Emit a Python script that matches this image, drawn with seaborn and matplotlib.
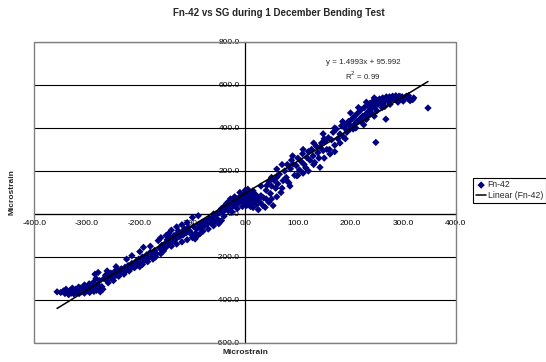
import numpy as np
import pandas as pd
import matplotlib
matplotlib.use("Agg")
import matplotlib.pyplot as plt
import seaborn as sns
from matplotlib.patches import Rectangle

# values (microstrain)
sg_x = [
    # lower left cluster
    -357, -350, -345, -342, -338, -335, -332, -330, -327, -325, -322, -320, -318, -315,
    -312, -310, -308, -305, -302, -300, -298, -295, -292, -290, -287, -285, -282, -280,
    -278, -275, -272, -270, -340, -328, -316, -305, -296, -288, -279, -283, -276,
    # rising part
    -268, -265, -262, -258, -255, -252, -248, -245, -242, -238, -235, -232, -228, -225,
    -222, -218, -215, -215, -212, -208, -205, -202, -198, -195, -193, -190, -187, -184,
    -180, -177, -175, -172, -168, -165, -162, -158, -155, -152, -150,
    -148, -145, -142, -138, -135, -132, -128, -127, -124, -120, -118, -115, -112, -108,
    -105, -102, -98, -95, -92, -89, -88, -85, -82, -78, -75, -72, -68, -65, -62, -58,
    -55, -52, -48, -45, -42, -40,
    -260, -250, -240, -230, -220, -210, -200, -195, -185, -175, -170, -160, -150, -145,
    -140, -130, -120, -110, -100, -95, -90, -85, -80, -70, -60, -50, -120, -110, -100,
    -130, -140, -160, -180, -200, -225, -245, -262, -285,
    # around zero
    -38, -35, -32, -30, -28, -25, -22, -20, -18, -15, -12, -10, -8, -5, -3, 0, 0, 2,
    5, 5, 8, 10, 12, 14, 15, 17, 19, 20, -25, -15, -5, 3, 10, 22, 25, 28,
    -50, -45, -40, -35, -30, -20, -10, 0, 5, -60, -28, 15, 25, 30, 35, 45, 50,
    # middle
    30, 34, 38, 40, 41, 45, 48, 50, 53, 55, 58, 60, 62, 65, 68, 72, 75, 78, 80, 83, 86,
    88, 91, 94, 97, 100, 103, 106, 109, 112, 115, 117, 120, 123, 126, 129, 132, 135,
    138, 142, 142, 145, 148, 148, 152, 155, 158, 161, 164, 167, 170, 173, 176, 180,
    183, 186, 189, 193, 193, 196, 199, 28, 79, 98,
    40, 60, 70, 85, 100, 110, 120, 130, 140, 150, 160, 170, 180, 190, 70, 90, 110, 130,
    150, 170, 185, 60, 50,
    # upper right cluster
    202, 205, 208, 211, 214, 217, 220, 223, 226, 229, 232, 235, 237, 240, 243, 246,
    248, 249, 252, 255, 258, 261, 264, 267, 268, 271, 274, 277, 280, 283, 286, 289,
    292, 295, 298, 302, 306, 310, 313, 318, 347, 240, 230, 220, 260, 250, 210, 225,
    245, 205, 255, 265, 275, 285, 295, 238, 248, 258, 270, 282,
    200, 215, 230, 245, 300, 310, 320, 290, 275, 265, 235, 222, 212, 198,
]
fn42_y = [
    -362, -365, -358, -370, -362, -375, -355, -368, -360, -372, -350, -365, -358, -370,
    -345, -362, -352, -368, -340, -358, -348, -365, -335, -352, -360, -340, -355, -330,
    -348, -362, -338, -350, -350, -345, -340, -330, -325, -318, -272, -300, -310,
    -300, -285, -310, -290, -275, -300, -268, -285, -262, -278, -255, -270, -248, -262,
    -240, -255, -194, -230, -245, -222, -238, -210, -228, -200, -155, -215, -190, -205,
    -178, -186, -198, -170, -185, -124, -160, -145, -172, -138, -155,
    -120, -140, -110, -128, -100, -118, -90, -78, -105, -85, -98, -70, -88, -62,
    -80, -95, -58, -92, -70, -8, -48, -65, -40, -55, -30, -48, -22, -40, -15, -35,
    -5, -25, 5, -31, 12, -10,
    -320, -310, -290, -280, -265, -250, -245, -235, -222, -210, -200, -185, -100, -90,
    -150, -140, -130, -120, -110, -116, -100, -90, -80, -70, -55, -45, -50, -40, -16,
    -60, -75, -110, -150, -175, -210, -245, -265, -280,
    20, 35, 15, 45, 28, 55, 38, 62, 45, 70, 52, 80, 60, 88, 68, 95, 50, 75,
    100, 55, 85, 65, 95, 48, 108, 75, 60, 90, 10, 25, 35, 40, 35, 45, 70, 55,
    10, 25, 35, 50, 60, 80, 100, 110, 115, 0, 70, 30, 20, 85, 75, 55, 70,
    130, 39, 31, 110, 132, 150, 95, 170, 39, 156, 120, 209, 140, 185, 100, 155, 200,
    170, 230, 145, 210, 250, 232, 180, 225, 260, 205, 245, 280, 230, 215, 263, 290,
    250, 300, 270, 240, 315, 285, 310, 217, 330, 373, 295, 340, 300, 355, 279, 345,
    380, 320, 395, 350, 372, 410, 360, 400, 419, 380, 430, 395, 77, 155, 178,
    70, 80, 120, 130, 180, 190, 200, 230, 260, 260, 300, 290, 330, 350, 230, 270, 300,
    330, 350, 400, 430, 170, 130,
    440, 410, 455, 425, 470, 440, 485, 455, 495, 465, 505, 480, 515, 490, 525, 500,
    333, 530, 510, 535, 515, 540, 520, 441, 545, 525, 545, 530, 548, 535, 550, 540,
    548, 535, 545, 540, 548, 535, 527, 532, 493, 470, 440, 430, 495, 480, 400, 415,
    455, 395, 520, 530, 538, 542, 545, 505, 515, 528, 535, 540,
    470, 495, 520, 540, 525, 550, 540, 520, 510, 500, 460, 445, 430, 415,
]

slope = 1.4993
intercept = 95.992
r_squared = 0.99

x_ticks = [-400, -300, -200, -100, 0, 100, 200, 300, 400]
y_ticks = [-600, -400, -200, 0, 200, 400, 600, 800]

df = pd.DataFrame({"SG": sg_x, "Fn-42": fn42_y})

sns.set_style("white")
plt.rcParams["font.family"] = ["Liberation Sans", "DejaVu Sans"]

fig = plt.figure(figsize=(5.46, 3.62), dpi=100)
ax = fig.add_axes([0.063, 0.0525, 0.772, 0.8315])

# horizontal gridlines
for yv in y_ticks:
    ax.axhline(yv, color="black", lw=0.8, zorder=1)

sns.scatterplot(data=df, x="SG", y="Fn-42", marker="D", s=14, color="#000080",
                edgecolor="none", ax=ax, zorder=3, label="Fn-42", legend=False)

# linear trendline over the data range
line_x = np.array([min(sg_x), max(sg_x)])
ax.plot(line_x, slope * line_x + intercept, color="black", lw=1.1, zorder=4,
        label="Linear (Fn-42)")

ax.set_xlim(-400, 400)
ax.set_ylim(-600, 800)
ax.set_xticks(x_ticks)
ax.set_yticks(y_ticks)
ax.set_xticklabels([f"{v:.1f}" for v in x_ticks])
ax.set_yticklabels([f"{v:.1f}" for v in y_ticks])
ax.tick_params(axis="both", direction="out", length=3, width=0.8, labelsize=6,
               pad=1, colors="black")

# axes cross at zero
ax.spines["left"].set_position(("data", 0))
ax.spines["bottom"].set_position(("data", 0))
for s in ["left", "bottom"]:
    ax.spines[s].set_color("black")
    ax.spines[s].set_linewidth(0.9)
for s in ["top", "right"]:
    ax.spines[s].set_visible(False)
ax.add_patch(Rectangle((0, 0), 1, 1, transform=ax.transAxes, fill=False,
                       edgecolor="#808080", lw=1.0, zorder=5, clip_on=False))

ax.set_xlabel("")
ax.set_ylabel("")
fig.text(0.449, 0.027, "Microstrain", ha="center", va="center", fontsize=6,
         fontweight="bold")
fig.text(0.022, 0.47, "Microstrain", ha="center", va="center", fontsize=6,
         fontweight="bold", rotation=90)
fig.text(0.51, 0.963, "Fn-42 vs SG during 1 December Bending Test", ha="center",
         va="center", fontsize=7, fontweight="bold")

ax.text(224, 668, f"y = {slope}x + {intercept}\nR$^2$ = {r_squared}", ha="center",
        va="center", fontsize=5.7, linespacing=1.35)

leg = fig.legend(loc="center left", bbox_to_anchor=(0.867, 0.474), fontsize=6.2,
                 frameon=True, fancybox=False, edgecolor="black", framealpha=1,
                 borderpad=0.3, handlelength=1.2, handletextpad=0.15,
                 labelspacing=0.25, borderaxespad=0)
leg.get_frame().set_linewidth(0.8)

fig.savefig("out.png", dpi=100)
